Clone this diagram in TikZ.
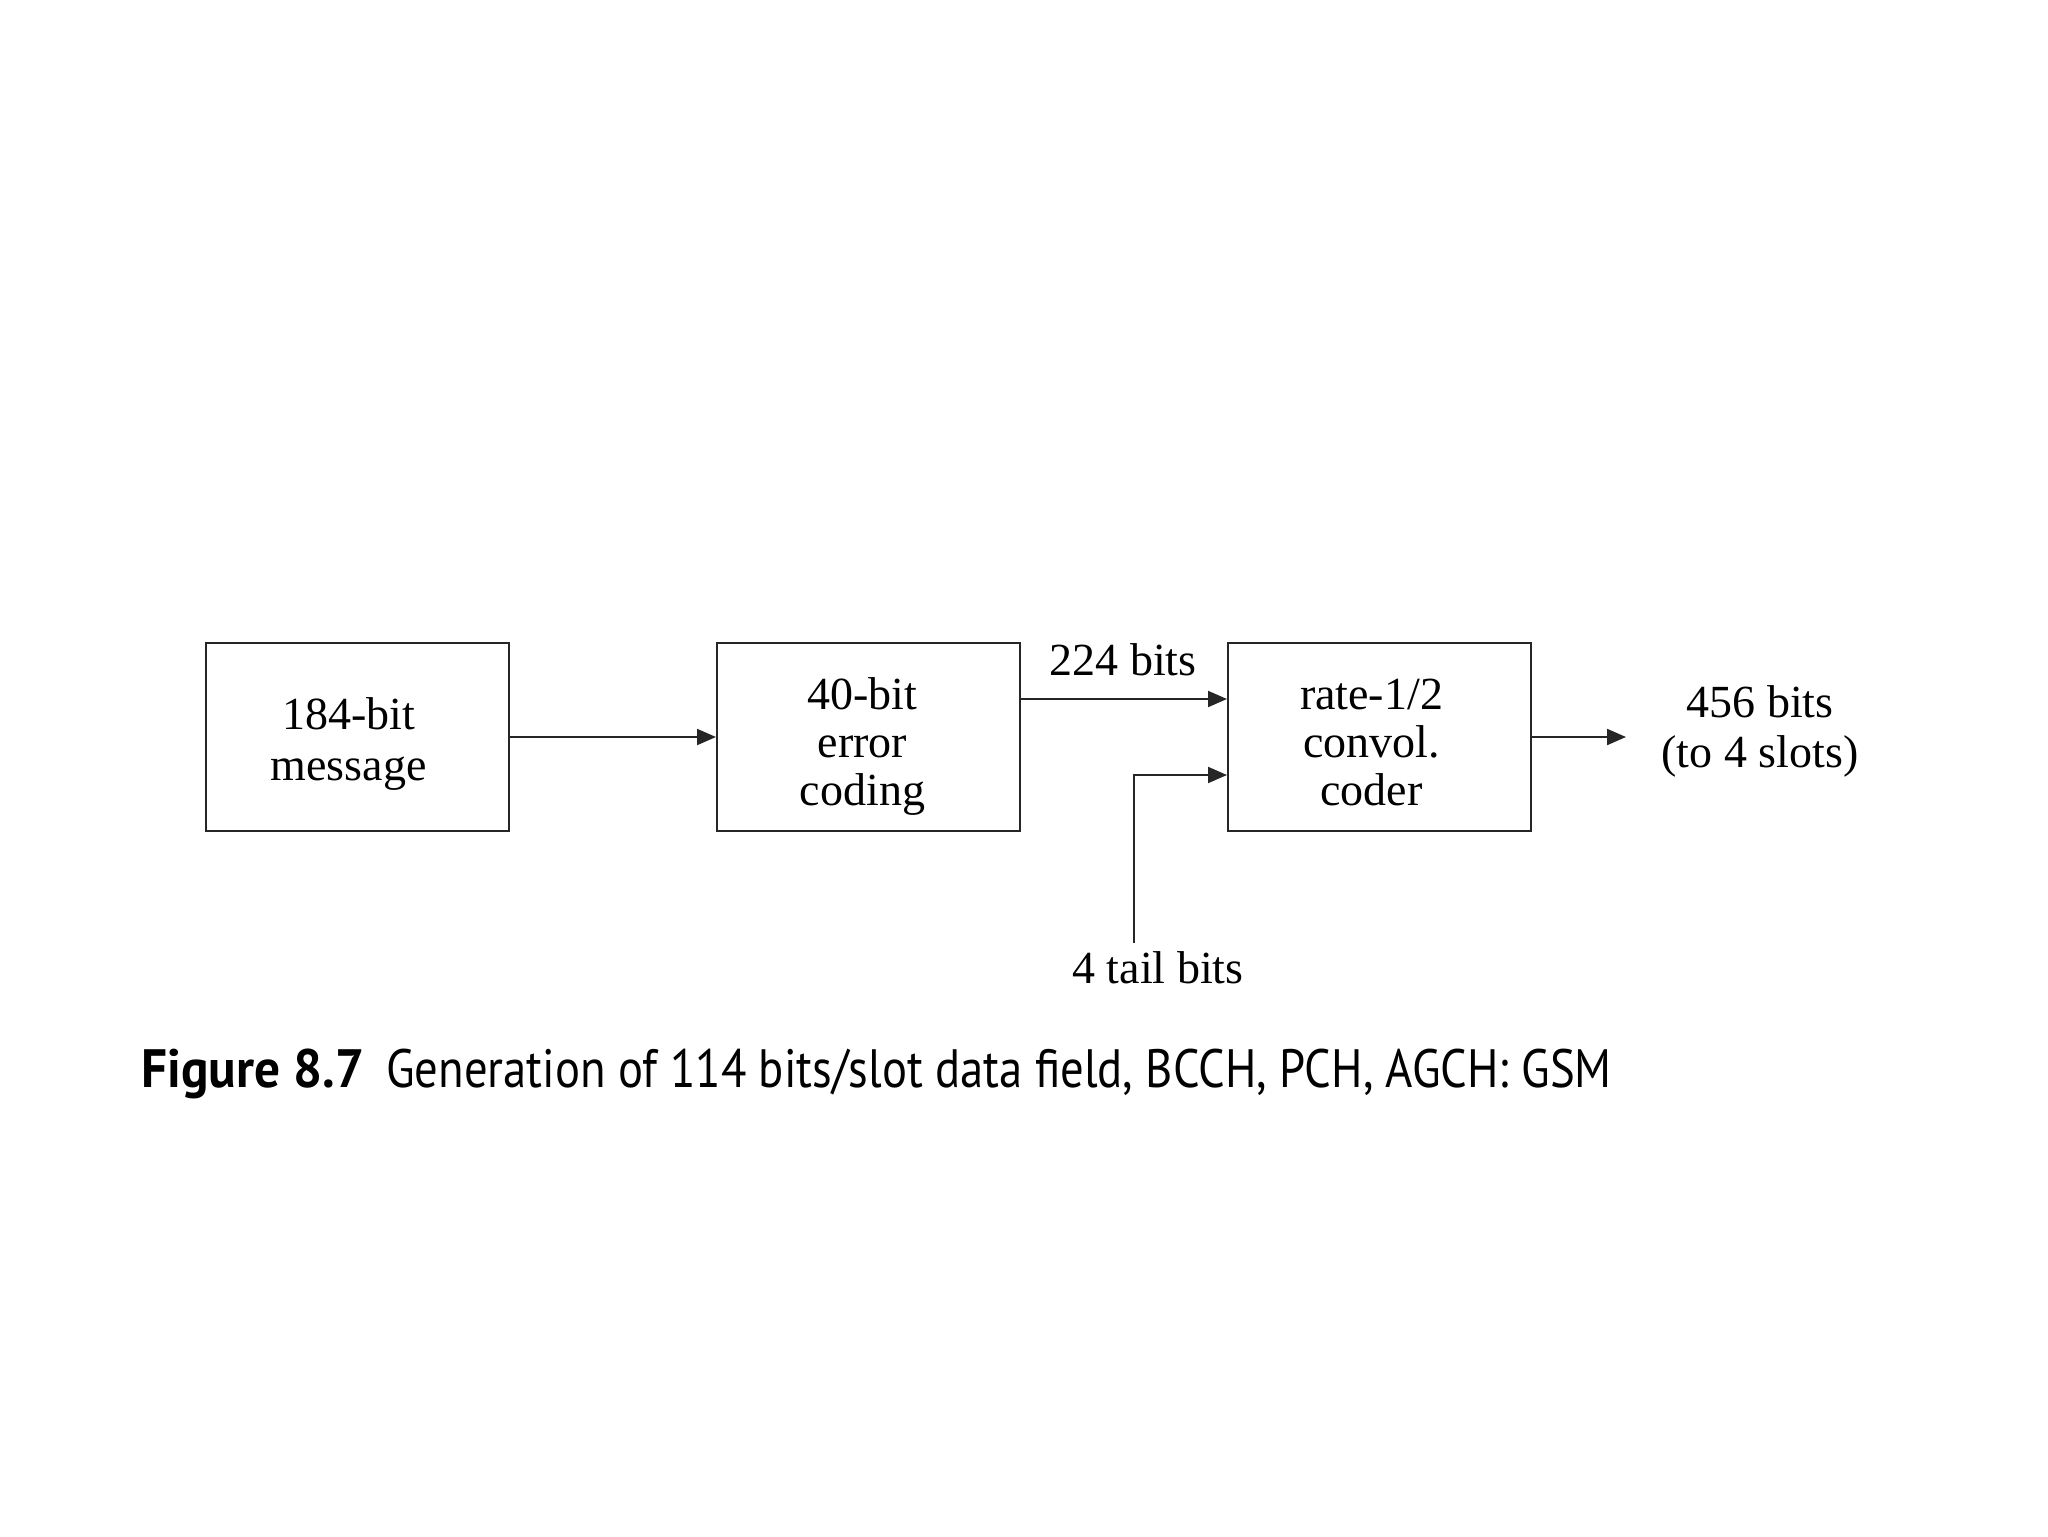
\documentclass[tikz,border=0pt]{standalone}
\usepackage{fontspec}
\setmainfont{Liberation Serif}
\newfontfamily\capfont{PT Sans}
\usetikzlibrary{arrows.meta}
\begin{document}
\begin{tikzpicture}[x=0.5pt,y=-0.5pt,
  blk/.style={draw=black!85,line width=1pt,minimum width=151.5pt,minimum height=94pt,inner sep=0pt},
  txt/.style={align=center,inner sep=0pt,font=\fontsize{23}{24}\selectfont},
  lbl/.style={align=center,inner sep=0pt,font=\fontsize{23}{25}\selectfont},
  arr/.style={draw=black!85,line width=1pt,-{Triangle[length=9.5pt,width=8pt]}}]
\useasboundingbox (0,0) rectangle (2048,1536);
\node[blk] (b1) at (357.5,737) {};
\node[blk] (b2) at (868.5,737) {};
\node[blk] (b3) at (1379.5,737) {};
\node[txt,font=\fontsize{23}{25.5}\selectfont] (t1) at ([xshift=-4.5pt,yshift=-3.5pt]b1.center) {184-bit\\message};
\node[txt] (t2) at ([xshift=-3pt,yshift=-4.5pt]b2.center) {40-bit\\error\\coding};
\node[txt] (t3) at ([xshift=-4pt,yshift=-2.5pt]b3.center) {rate-1/2\\convol.\\coder};
\draw[arr] (b1.east) -- (b2.west);
\draw[arr] ([yshift=19pt]b2.east) -- ([yshift=19pt]b3.west);
\node[lbl] (l224) at (1123,660) {224 bits};
\coordinate (tail) at (1134,943);
\draw[arr] (tail) |- ([yshift=-19pt]b3.west);
\node[lbl] (ltail) at (1158,968) {4 tail bits};
\coordinate (out) at (1626,737);
\draw[arr] (b3.east) -- (out);
\node[lbl] (l456) at (1760,731) {456 bits\\(to 4 slots)};
\node[anchor=base west,inner sep=0pt,font=\capfont\fontsize{27}{30}\selectfont] (cap) at (141,1087)
  {\scalebox{0.95}[1]{\bfseries Figure 8.7}\hspace{11pt}\scalebox{0.865}[1]{Generation of 114 bits/slot data field, BCCH, PCH, AGCH: GSM}};
\end{tikzpicture}
\end{document}
